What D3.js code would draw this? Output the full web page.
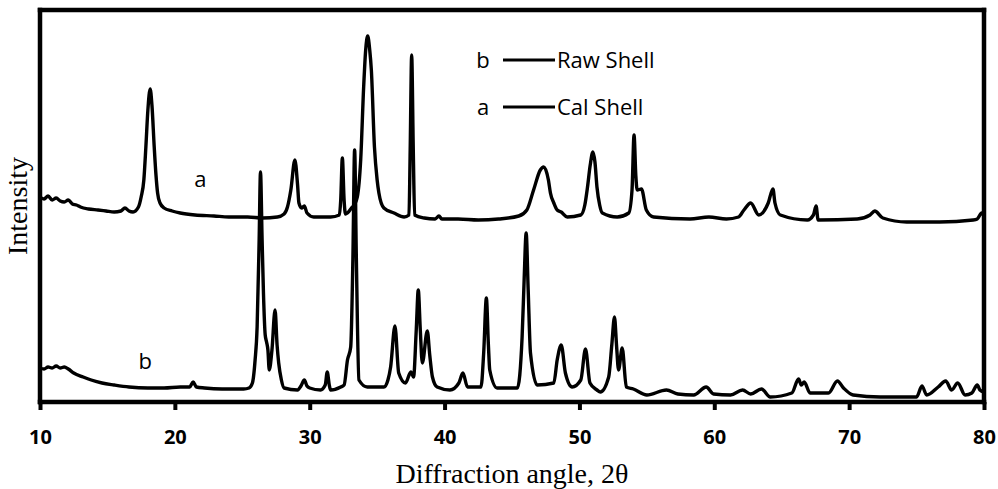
<!DOCTYPE html>
<html>
<head>
<meta charset="utf-8">
<script src="https://cdn.jsdelivr.net/npm/d3@7"></script>
<style>
  html, body { margin: 0; padding: 0; background: #fff; }
  svg { display: block; }
</style>
</head>
<body>
<svg id="chart" width="998" height="489"></svg>
<script>
// ---- DATA (2θ in degrees, intensity in arbitrary units) ----
const xTicks = [10, 20, 30, 40, 50, 60, 70, 80];

const calShellAngle = [10.0,10.3,10.6,10.9,11.2,11.5,11.8,12.1,12.4,12.7,13.0,13.6,14.3,14.9,15.5,16.0,16.3,16.6,16.9,17.3,17.5,17.7,17.85,18.0,18.17,18.3,18.47,18.6,18.72,18.9,19.2,19.8,20.4,21.5,22.9,24.0,25.4,26.5,27.6,28.1,28.35,28.6,28.9,29.1,29.2,29.4,29.6,29.8,30.3,31.55,32.2,32.3,32.42,32.55,32.65,32.8,33.1,33.3,33.53,33.78,34.0,34.15,34.3,34.45,34.57,34.8,35.0,35.13,35.5,36.25,37.0,37.36,37.45,37.56,37.68,37.78,38.5,39.3,39.58,39.8,41.0,42.5,44.0,45.5,46.1,46.6,47.1,47.35,47.7,47.85,48.1,48.35,48.65,49.1,50.1,50.4,50.6,50.8,51.0,51.15,51.3,51.5,51.7,52.8,53.66,53.9,54.05,54.18,54.28,54.6,54.96,55.5,58.2,59.6,60.9,61.8,62.2,62.7,63.3,64.0,64.35,64.5,64.9,66.9,67.35,67.55,67.7,70.6,71.55,71.9,72.5,74.27,76.7,79.2,79.5,79.83,80.0];
const calShellIntensity = [205,203,206,202,204,201,200,202,198,197,195,193,192,191,190,191,194,191,190,195,205,222,255,292,313,297,255,227,209,199,194,191,189,187,186,185,185,184,185,188,195,212,242,217,199,194,196,189,185,185,187,202,244,202,188,189,194,197,205,242,315,352,366,352,332,255,222,209,194,189,185,187,252,347,252,187,184,183,186,183,183,182,183,186,192,212,232,235,222,209,199,192,190,185,187,197,215,237,250,240,215,197,189,185,189,212,267,227,212,213,192,185,183,185,183,185,192,199,187,199,213,199,187,182,187,196,182,183,187,191,184,180,180,182,183,189,186];

const rawShellAngle = [10.0,10.3,10.6,10.9,11.2,11.5,11.8,12.1,12.5,13.2,13.8,14.6,15.5,16.6,18.0,19.2,20.4,21.1,21.35,21.6,22.2,23.5,25.1,25.5,25.75,25.95,26.1,26.25,26.35,26.47,26.57,26.7,26.8,26.9,27.0,27.2,27.43,27.58,27.7,27.9,28.1,29.1,29.35,29.6,29.8,30.0,30.8,31.15,31.3,31.45,31.55,32.3,32.55,32.8,33.04,33.2,33.33,33.46,33.65,34.27,35.5,35.8,36.0,36.32,36.6,37.1,37.5,37.7,37.9,38.05,38.2,38.35,38.72,38.9,39.1,39.45,40.4,41.06,41.36,41.7,42.7,42.9,43.1,43.25,43.35,43.9,45.4,45.75,45.9,46.05,46.2,46.37,46.87,48.1,48.35,48.65,48.96,49.46,50.1,50.45,50.78,51.3,51.55,52.17,52.4,52.6,52.75,52.9,53.17,53.48,54.0,55.0,56.45,57.3,58.47,59.4,59.95,61.2,62.1,62.7,63.5,64.15,65.75,66.25,66.45,66.67,67.1,68.47,69.13,69.58,70.3,72.3,75.0,75.4,75.75,76.6,77.16,77.6,78.05,78.6,79.1,79.5,79.7,80.0];
const rawShellIntensity = [34,33,35,34,36,34,35,33,29,25,22,19,17,15,14,14,15,15,20,15,14,13,13,14,19,42,75,162,230,162,109,67,60,52,32,52,92,57,39,22,14,12,16,22,16,14,12,17,30,17,12,15,17,42,55,142,252,142,22,15,15,22,35,76,29,19,30,25,72,112,72,39,71,47,25,15,12,19,29,15,15,49,104,57,32,14,14,65,122,169,112,49,17,19,42,57,29,15,22,53,19,12,10,25,57,85,57,32,54,15,13,7,12,8,7,15,8,7,12,8,13,5,9,23,17,20,9,9,21,14,7,5,5,16,7,15,21,12,19,7,9,17,12,10];

const seriesNames = ["Raw Shell", "Cal Shell"];
const seriesKeys = ["b", "a"];

// ---- CHART ----
const svg = d3.select("#chart");
const L = 40, R = 984, T = 10, B = 402;

const x = d3.scaleLinear().domain([10, 80]).range([L, R]);
const y = d3.scaleLinear().domain([0, 392]).range([B, T]);

const line = d3.line()
  .x(d => x(d[0]))
  .y(d => y(d[1]))
  .curve(d3.curveMonotoneX);

const calData = calShellAngle.map((a, i) => [a, calShellIntensity[i]]);
const rawData = rawShellAngle.map((a, i) => [a, rawShellIntensity[i]]);

svg.append("path").datum(rawData)
  .attr("d", line).attr("fill", "none").attr("stroke", "#000")
  .attr("stroke-width", 3.4).attr("stroke-linejoin", "round");
svg.append("path").datum(calData)
  .attr("d", line).attr("fill", "none").attr("stroke", "#000")
  .attr("stroke-width", 3.4).attr("stroke-linejoin", "round");

// frame (drawn as four thick black lines)
const frame = [[L, T, R, T], [R, T, R, B], [R, B, L, B], [L, B, L, T]];
svg.append("g").selectAll("line").data(frame).join("line")
  .attr("x1", d => d[0]).attr("y1", d => d[1])
  .attr("x2", d => d[2]).attr("y2", d => d[3])
  .attr("stroke", "#000").attr("stroke-width", 4.5)
  .attr("stroke-linecap", "square");

// x axis
const xAxis = d3.axisBottom(x).tickValues(xTicks).tickSize(8).tickPadding(20).tickFormat(d3.format("d"));
const gx = svg.append("g").attr("transform", `translate(0,${B})`).call(xAxis);
gx.select(".domain").remove();
gx.selectAll(".tick line").attr("stroke", "#000").attr("stroke-width", 4);
gx.selectAll(".tick text")
  .attr("font-family", "'Open Sans', sans-serif")
  .attr("font-weight", "bold").attr("font-size", 20).attr("fill", "#000");

// axis titles
svg.append("text")
  .attr("x", (L + R) / 2).attr("y", 483)
  .attr("text-anchor", "middle")
  .attr("font-family", "'Liberation Serif', 'Times New Roman', serif")
  .attr("font-size", 28).text("Diffraction angle, 2θ");

svg.append("text")
  .attr("transform", `translate(27,${(T + B) / 2}) rotate(-90)`)
  .attr("text-anchor", "middle")
  .attr("font-family", "'Liberation Serif', 'Times New Roman', serif")
  .attr("font-size", 28).text("Intensity");

// curve labels
const sans = "'Open Sans', sans-serif";
svg.append("text").attr("x", x(21.9)).attr("y", 187)
  .attr("text-anchor", "middle").attr("font-family", sans).attr("font-size", 22).text("a");
svg.append("text").attr("x", x(17.8)).attr("y", 369)
  .attr("text-anchor", "middle").attr("font-family", sans).attr("font-size", 22).text("b");

// legend
const legY = [60, 107];
seriesKeys.forEach((k, i) => {
  const g = svg.append("g");
  g.append("text").attr("x", 483).attr("y", legY[i] + 8)
    .attr("text-anchor", "middle").attr("font-family", sans).attr("font-size", 22).text(k);
  g.append("line").attr("x1", 503).attr("x2", 555).attr("y1", legY[i]).attr("y2", legY[i])
    .attr("stroke", "#000").attr("stroke-width", 3);
  g.append("text").attr("x", 557).attr("y", legY[i] + 8)
    .attr("font-family", sans).attr("font-size", 22).text(seriesNames[i]);
});
</script>
</body>
</html>
